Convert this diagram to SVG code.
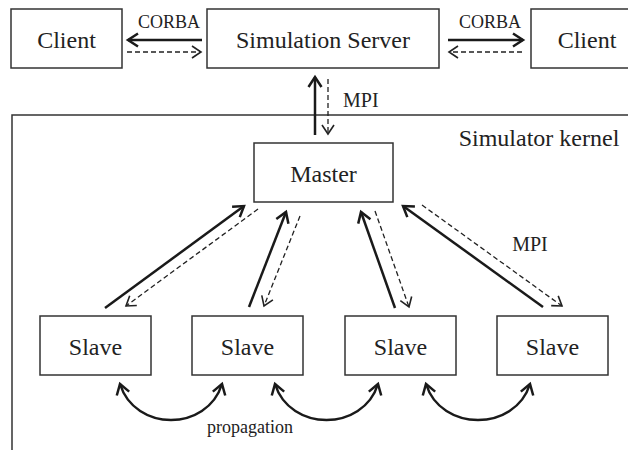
<svg xmlns="http://www.w3.org/2000/svg" width="628" height="450" viewBox="0 0 628 450">
<style>
  .box { fill: #ffffff; stroke: #333333; stroke-width: 1.5; }
  .lbl { font-family: "Liberation Serif", "Times New Roman", serif; fill: #222222; text-anchor: middle; }
  .big { font-size: 24px; }
  .small { font-size: 18px; }
  .mid { font-size: 20px; }
  .solid { fill: none; stroke: #1a1a1a; stroke-width: 2.5; marker-end: url(#headSolid); }
  .dash { fill: none; stroke: #222222; stroke-width: 1.3; stroke-dasharray: 5 3; marker-end: url(#headDash); }
  .arc { fill: none; stroke: #1a1a1a; stroke-width: 2.5; marker-start: url(#headSolid); marker-end: url(#headSolid); }
  .frame { fill: none; stroke: #333333; stroke-width: 1.5; }
</style>
<defs>
  <marker id="headSolid" markerUnits="userSpaceOnUse" markerWidth="24" markerHeight="24" viewBox="-14 -12 24 24" refX="0" refY="0" orient="auto-start-reverse" overflow="visible">
    <path d="M-10,-6.5 L0,0 L-10,6.5" fill="none" stroke="#1a1a1a" stroke-width="2.5"/>
  </marker>
  <marker id="headDash" markerUnits="userSpaceOnUse" markerWidth="24" markerHeight="24" viewBox="-14 -12 24 24" refX="0" refY="0" orient="auto-start-reverse" overflow="visible">
    <path d="M-9,-6 L0,0 L-9,6" fill="none" stroke="#222222" stroke-width="1.6"/>
  </marker>
</defs>

<path class="frame" d="M12,450 L12,115 L628,115"/>
<text class="lbl big" x="539" y="146">Simulator kernel</text>

<g id="client-left">
  <rect class="box" x="11" y="9" width="111" height="59"/>
  <text class="lbl big" x="66.5" y="48">Client</text>
</g>
<g id="server">
  <rect class="box" x="207" y="9" width="232" height="59"/>
  <text class="lbl big" x="323" y="48">Simulation Server</text>
</g>
<g id="client-right">
  <rect class="box" x="531" y="9" width="111" height="59"/>
  <text class="lbl big" x="587" y="48">Client</text>
</g>
<g id="master">
  <rect class="box" x="254" y="143" width="139" height="59"/>
  <text class="lbl big" x="323.5" y="182">Master</text>
</g>
<g id="slave1">
  <rect class="box" x="40" y="316" width="111" height="59"/>
  <text class="lbl big" x="95.5" y="355">Slave</text>
</g>
<g id="slave2">
  <rect class="box" x="192" y="316" width="111" height="59"/>
  <text class="lbl big" x="247.5" y="355">Slave</text>
</g>
<g id="slave3">
  <rect class="box" x="345" y="316" width="111" height="59"/>
  <text class="lbl big" x="400.5" y="355">Slave</text>
</g>
<g id="slave4">
  <rect class="box" x="497" y="316" width="111" height="59"/>
  <text class="lbl big" x="552.5" y="355">Slave</text>
</g>

<g id="connectors">
  <!-- CORBA left -->
  <line class="solid" x1="202" y1="40" x2="128" y2="40"/>
  <line class="dash" x1="127" y1="52" x2="201" y2="52"/>
  <text class="lbl small" x="169" y="28">CORBA</text>
  <!-- CORBA right -->
  <line class="solid" x1="448" y1="40" x2="523" y2="40"/>
  <line class="dash" x1="522" y1="52" x2="449" y2="52"/>
  <text class="lbl small" x="490" y="28">CORBA</text>
  <!-- MPI vertical -->
  <line class="solid" x1="315" y1="135" x2="315" y2="77"/>
  <line class="dash" x1="328" y1="79" x2="328" y2="134"/>
  <text class="lbl mid" x="343" y="107" text-anchor="start" style="text-anchor:start">MPI</text>
  <!-- Master <-> Slave 1 -->
  <line class="solid" x1="105" y1="308" x2="244" y2="206"/>
  <line class="dash" x1="258" y1="209" x2="126" y2="306"/>
  <!-- Master <-> Slave 2 -->
  <line class="solid" x1="249" y1="307" x2="286" y2="212"/>
  <line class="dash" x1="300" y1="216" x2="264" y2="306"/>
  <!-- Master <-> Slave 3 -->
  <line class="solid" x1="395" y1="308" x2="361" y2="212"/>
  <line class="dash" x1="375" y1="211" x2="409" y2="307"/>
  <!-- Master <-> Slave 4 -->
  <line class="solid" x1="543" y1="307" x2="403" y2="206"/>
  <line class="dash" x1="422" y1="205" x2="562" y2="306"/>
  <text class="lbl mid" x="530" y="251">MPI</text>
  <!-- propagation arcs -->
  <path class="arc" d="M120,384 C135,432 207,432 222,384"/>
  <path class="arc" d="M275,384 C290,432 363,432 378,384"/>
  <path class="arc" d="M426,384 C441,432 515,432 530,384"/>
  <text class="lbl small" x="250" y="433">propagation</text>
</g>
</svg>
